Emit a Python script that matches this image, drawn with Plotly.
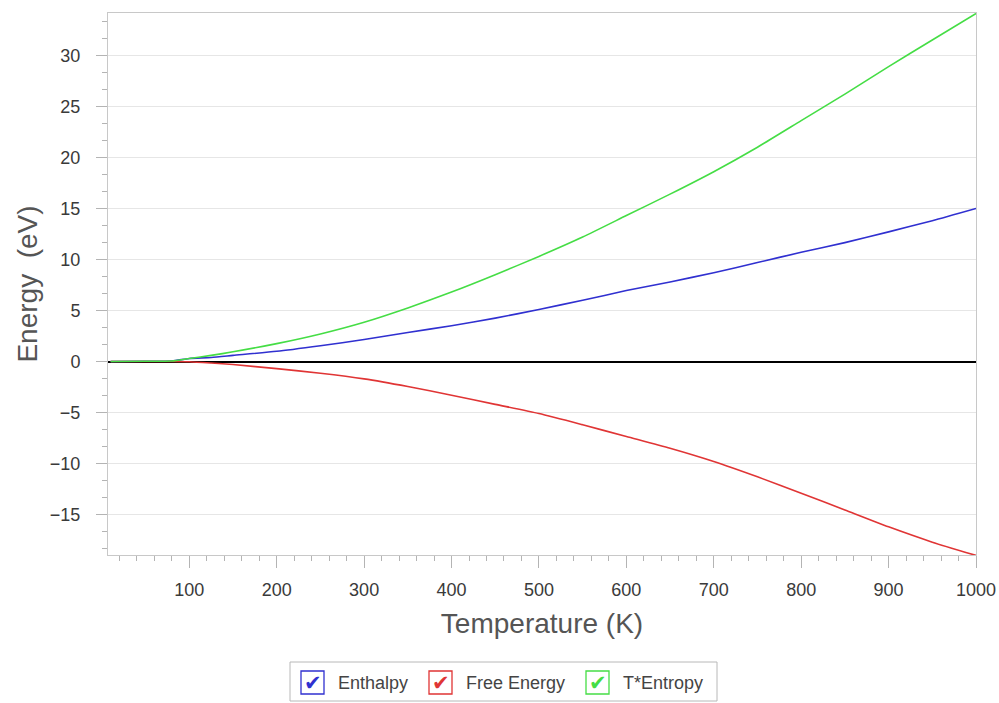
import plotly.graph_objects as go

temperature = [10, 50, 80, 100, 125, 150, 200, 250, 300, 350, 400, 450, 500, 550,
               600, 650, 700, 750, 800, 850, 900, 950, 1000]
enthalpy = [0, 0.02, 0.05, 0.3, 0.4, 0.6, 1.0, 1.55, 2.15, 2.85, 3.5, 4.25, 5.1, 6.0,
            6.95, 7.8, 8.7, 9.7, 10.7, 11.65, 12.7, 13.8, 15.0]
free_energy = [0, 0, 0, -0.02, -0.15, -0.3, -0.7, -1.15, -1.7, -2.45, -3.3, -4.2, -5.1, -6.2,
               -7.35, -8.5, -9.8, -11.3, -12.9, -14.55, -16.2, -17.7, -19.0]
t_entropy = [0, 0.02, 0.05, 0.3, 0.6, 0.95, 1.75, 2.7, 3.85, 5.25, 6.8, 8.5, 10.3, 12.2,
             14.3, 16.4, 18.6, 21.0, 23.6, 26.2, 28.9, 31.5, 34.1]
series_names = ["Enthalpy", "Free Energy", "T*Entropy"]
series_values = [enthalpy, free_energy, t_entropy]
series_colors = ["#3030d0", "#e03535", "#45dd45"]
x_ticks = [100, 200, 300, 400, 500, 600, 700, 800, 900, 1000]
y_ticks = [-15, -10, -5, 0, 5, 10, 15, 20, 25, 30]

# plot-area geometry (pixels) used for the hand-drawn checkbox legend
W, H = 999, 703
L, R, T, B = 108, 976, 13, 555


def px(x):
    return (x - L) / (R - L)


def py(y):
    return (B - y) / (B - T)


fig = go.Figure()
for name, vals, col in zip(series_names, series_values, series_colors):
    fig.add_trace(go.Scatter(x=temperature, y=vals, mode="lines", name=name,
                             line=dict(color=col, width=1.6, shape="spline", smoothing=0.6)))

font = "'Liberation Sans', Arial, sans-serif"

# checkbox-style legend (as in the reference)
shapes = [dict(type="rect", xref="paper", yref="paper",
               x0=px(290), x1=px(717), y0=py(701), y1=py(662),
               line=dict(color="#b8b8b8", width=1), fillcolor="white", layer="above")]
annotations = []
box_left = [301, 429, 586]
for bl, name, col in zip(box_left, series_names, series_colors):
    shapes.append(dict(type="rect", xref="paper", yref="paper",
                       x0=px(bl), x1=px(bl + 23), y0=py(694), y1=py(671),
                       line=dict(color=col, width=1.3), fillcolor="white", layer="above"))
    annotations.append(dict(xref="paper", yref="paper", x=px(bl + 11.5), y=py(683),
                            text="✔", showarrow=False, xanchor="center", yanchor="middle",
                            font=dict(family="DejaVu Sans", size=21, color=col)))
    annotations.append(dict(xref="paper", yref="paper", x=px(bl + 35), y=py(683),
                            text=name, showarrow=False, xanchor="left", yanchor="middle",
                            font=dict(family=font, size=18, color="#444444")))

fig.update_layout(
    width=W, height=H,
    margin=dict(l=L, r=W - R, t=T, b=H - B, autoexpand=False),
    paper_bgcolor="white", plot_bgcolor="white",
    font=dict(family=font, size=18, color="#3a3a3a"),
    showlegend=False,
    shapes=shapes, annotations=annotations,
    xaxis=dict(
        range=[7, 1000], tickvals=x_ticks,
        showgrid=False, zeroline=False,
        showline=True, linecolor="#c8c8c8", linewidth=1, mirror=True,
        ticks="outside", ticklen=12, tickcolor="#b4b4b4",
        minor=dict(dtick=20, tick0=0, ticks="outside", ticklen=5, tickcolor="#b4b4b4", showgrid=False),
        ticklabelstandoff=6,
        title=dict(text="Temperature (K)", font=dict(size=28, color="#555555"), standoff=14),
        tickfont=dict(size=18, color="#3a3a3a"),
    ),
    yaxis=dict(
        range=[-18.96, 34.15], tickvals=y_ticks,
        showgrid=True, gridcolor="#e6e6e6", gridwidth=1,
        zeroline=True, zerolinecolor="#000000", zerolinewidth=2,
        showline=True, linecolor="#c8c8c8", linewidth=1, mirror=True,
        ticks="outside", ticklen=11, tickcolor="#b4b4b4",
        minor=dict(dtick=5 / 3, tick0=0, ticks="outside", ticklen=5, tickcolor="#b4b4b4", showgrid=False),
        ticklabelstandoff=12,
        title=dict(text="Energy\u00a0 (eV)", font=dict(size=28, color="#555555"), standoff=4),
        tickfont=dict(size=18, color="#3a3a3a"),
    ),
)

fig.write_html("out.html", config={"displayModeBar": False},
               post_script="document.body.style.margin='0';")
